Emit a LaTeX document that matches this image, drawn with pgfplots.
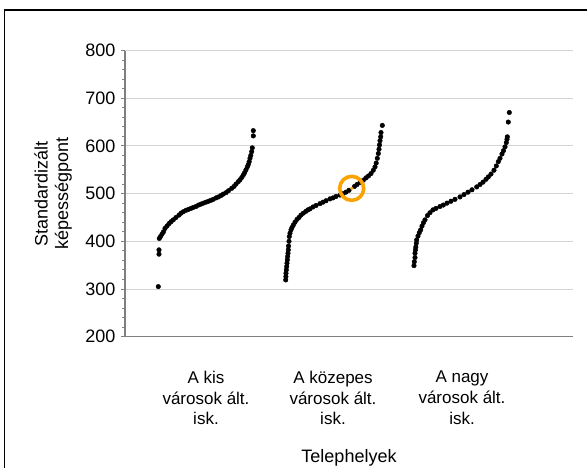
\documentclass[border=0pt]{standalone}
\usepackage{pgfplots}
\pgfplotsset{compat=1.18}
\usepackage{fontspec}
\setmainfont{Liberation Sans}
\definecolor{axgray}{RGB}{128,128,128}
\definecolor{gridgray}{RGB}{212,212,212}
\definecolor{ring}{RGB}{250,163,0}

\pgfplotstableread{
x y
158.3 305
159 373
159 382
159.3 406
160.5 410
162 415
163.5 420
165 427
167 432
169 437
171 441
173.3 445
176 450
179 455
181 459
183.3 462
186 465
188.5 467
191 469
193.3 471
196 473
198.5 476
201 478
203.3 480
206 482
208.5 484
211 486
213.3 488
216 491
218.5 493
221 496
223.3 499
226 502
228.5 506
231.7 511
234 515
236 520
238.3 525
240 529
241.8 534
243.3 539
244.7 544
246 550
247.3 556
248.3 561
249.2 567
250 574
250.8 580
251.7 588
252.3 596
253.3 621
253.3 632
}\kis

\pgfplotstableread{
x y
285.7 319
285.9 326
286 333
286.3 340
286.7 347
287 354
287.3 361
287.6 368
288 375
288.3 382
288.5 390
289 400
289.3 410
290 417
291 424
292 429
293.3 434
295 440
297 446
299 450
301 455
303.3 459
306 463
308 466
310 468
313 472
316 475
320 479
323 482
326 485
330 489
333 491
336 494
340 497
343 500
346 503
349 507
354.5 515
357 519
360 523
363.3 528
366 533
368.5 537
371 542
373.3 549
375 556
376.2 564
377.3 574
378.3 584
379 593
379.5 602
380 611
380.7 619
381 628
382.3 643
}\kozepes

\pgfplotstableread{
x y
414 349
414.3 357
415 366
415 375
415.4 382
415.8 388
416.3 396
416.7 403
418 411
419.3 418
420.7 424
422 432
423.5 439
425 445
427.5 454
430 460
433 466
436 469
440 473
443.3 476
447 480
451 484
455 488
460 493
464 498
468 503
472 508
476.7 514
480 519
483 524
486 530
488.3 535
491 541
494 549
496.3 558
498.3 567
500 574
502 583
503.5 590
505 598
506.3 607
507 614
507.3 619
508.3 650
509.3 670
}\nagy

\begin{document}
\begin{tikzpicture}
\useasboundingbox (0,0) rectangle (587pt,-468pt);
\draw[line width=1.8pt] (4.5pt,-480pt) |- (600pt,-10pt);
\begin{axis}[
  at={(125pt,-336.7pt)}, anchor=south west,
  scale only axis, width=448pt, height=286.2pt,
  xmin=125, xmax=573, ymin=200, ymax=800,
  axis x line*=bottom, axis y line*=left,
  axis line style={axgray, line width=1.3pt},
  ytick={200,300,...,800}, minor y tick num=4,
  ymajorgrids, major grid style={gridgray, line width=0.9pt},
  tick align=outside,
  major tick length=4pt, minor tick length=2.5pt,
  every tick/.style={axgray, line width=0.9pt},
  xtick={206,333,462}, major x tick style={draw=none},
  xticklabels={{A kis\\városok ált.\\isk.},{A közepes\\városok ált.\\isk.},{A nagy\\városok ált.\\isk.}},
  xticklabel style={align=center, font=\fontsize{17}{20.6}\selectfont, yshift=-27pt},
  yticklabel style={font=\fontsize{18}{20}\selectfont, xshift=-2pt},
  /pgf/number format/assume math mode=true,
  xlabel={Telephelyek},
  xlabel style={at={(axis description cs:0.5,0)}, anchor=center, yshift=-121pt, font=\fontsize{18}{20}\selectfont},
  ylabel={Standardizált\\képességpont},
  ylabel style={at={(axis description cs:0,0.5)}, anchor=center, yshift=72pt, align=center, font=\fontsize{18}{20.5}\selectfont},
  clip=false,
]
\addplot[only marks, mark=*, mark size=2.3pt, black] table {\kis};
\addplot[only marks, mark=*, mark size=2.3pt, black] table {\kozepes};
\addplot[only marks, mark=*, mark size=1.5pt, ring] coordinates {(351.7,511)};
\addplot[only marks, mark=o, mark size=12pt, mark options={draw=ring, line width=3.6pt}] coordinates {(351.7,511)};
\addplot[only marks, mark=*, mark size=2.3pt, black] table {\nagy};
\end{axis}
\end{tikzpicture}
\end{document}
